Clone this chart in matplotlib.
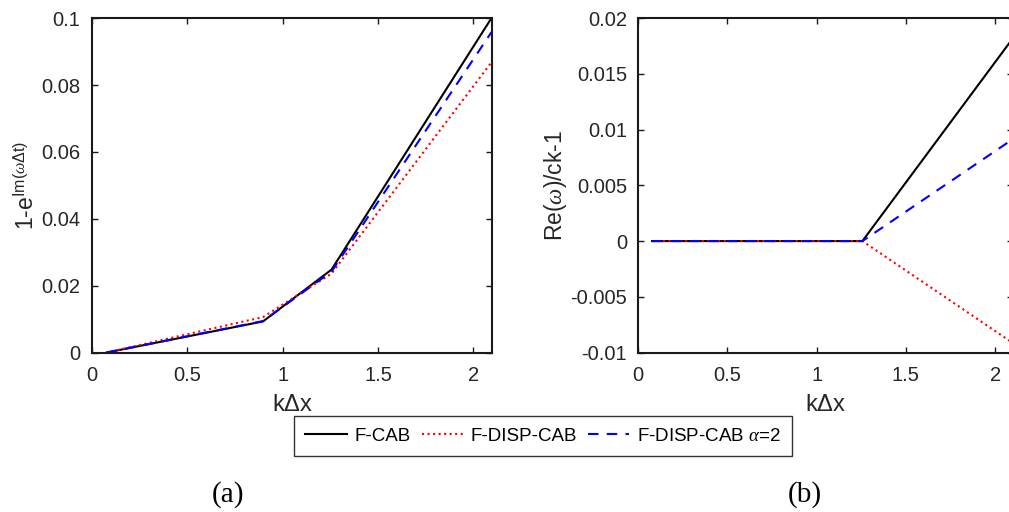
import matplotlib
matplotlib.use("Agg")
import matplotlib.pyplot as plt

plt.rcParams['font.family'] = ['Liberation Sans', 'DejaVu Sans']
plt.rcParams['mathtext.fontset'] = 'custom'
plt.rcParams['mathtext.rm'] = 'Liberation Sans'
plt.rcParams['mathtext.it'] = 'Liberation Serif:italic'

# Data
kdx = [0.0785, 0.8976, 1.2566, 2.0944]
damp_fcab = [0.0, 0.0093, 0.0248, 0.1000]
damp_disp = [0.0, 0.0106, 0.0236, 0.0868]
damp_alpha = [0.0, 0.0094, 0.0242, 0.0958]

disp_fcab = [0.0, 0.0, 0.0, 0.0181]
disp_disp = [0.0, 0.0, 0.0, -0.0091]
disp_alpha = [0.0, 0.0, 0.0, 0.0091]

labels = ['F-CAB', 'F-DISP-CAB', r'F-DISP-CAB $\alpha$=2']
xticks = [0, 0.5, 1, 1.5, 2]
xticklabels = ['0', '0.5', '1', '1.5', '2']
yticks_a = [0, 0.02, 0.04, 0.06, 0.08, 0.1]
yticklabels_a = ['0', '0.02', '0.04', '0.06', '0.08', '0.1']
yticks_b = [-0.01, -0.005, 0, 0.005, 0.01, 0.015, 0.02]
yticklabels_b = ['-0.01', '-0.005', '0', '0.005', '0.01', '0.015', '0.02']

fig = plt.figure(figsize=(10.09, 5.12), dpi=100)
ax1 = fig.add_axes([0.0909, 0.3115, 0.3972, 0.653])
ax2 = fig.add_axes([0.6323, 0.3115, 0.3717, 0.653])

styles = [dict(color='black', linestyle='-', lw=1.5),
          dict(color='red', linestyle=':', lw=1.5),
          dict(color='blue', linestyle=(0, (5, 4)), lw=1.5)]

lines = []
for ys, st, lab in zip([damp_fcab, damp_disp, damp_alpha], styles, labels):
    l, = ax1.plot(kdx, ys, label=lab, **st)
    lines.append(l)
for ys, st in zip([disp_fcab, disp_disp, disp_alpha], styles):
    ax2.plot(kdx, ys, **st)

for ax in (ax1, ax2):
    ax.set_xlim(0, 2.1)
    ax.set_xticks(xticks)
    ax.set_xticklabels(xticklabels)
    ax.tick_params(direction='in', top=True, right=True, labelsize=14.5, length=4, width=1,
                   colors='#1a1a1a', labelcolor='#262626')
    ax.tick_params(axis='y', pad=8)
    ax.tick_params(axis='x', pad=10)
    for sp in ax.spines.values():
        sp.set_linewidth(1.5)
        sp.set_color('#1a1a1a')
    ax.set_xlabel(r'k$\Delta$x', fontsize=17, labelpad=6, color='#262626')

ax1.set_ylim(0, 0.1)
ax1.set_yticks(yticks_a)
ax1.set_yticklabels(yticklabels_a)
ax1.set_ylabel(r'1-e$^{\mathrm{Im}(\omega\Delta \mathrm{t})}$', fontsize=16.5, color='#262626', labelpad=2)

ax2.set_ylim(-0.01, 0.02)
ax2.set_yticks(yticks_b)
ax2.set_yticklabels(yticklabels_b)
ax2.set_ylabel(r'Re($\omega$)/ck-1', fontsize=16.5, color='#262626', labelpad=1)

leg = fig.legend(handles=lines, loc='center', bbox_to_anchor=(543/1009, 1 - 436/512),
                 ncol=3, fontsize=13.5, frameon=True, fancybox=False, edgecolor='black',
                 handlelength=2.2, handletextpad=0.4, columnspacing=0.6, borderpad=0.6)
leg.get_frame().set_linewidth(1.0)

fig.text(228/1009, 1 - 495/512, '(a)', fontsize=21, family='Liberation Serif', ha='center', va='center')
fig.text(805/1009, 1 - 495/512, '(b)', fontsize=21, family='Liberation Serif', ha='center', va='center')

fig.savefig('out.png', dpi=100)
